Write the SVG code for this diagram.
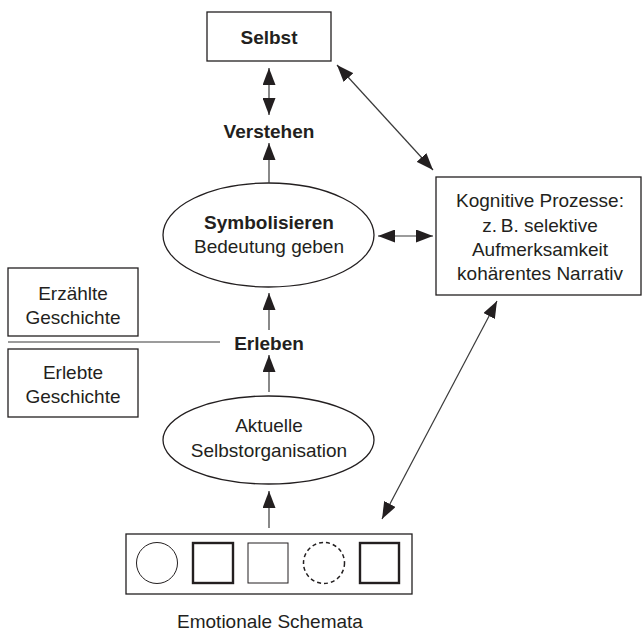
<svg xmlns="http://www.w3.org/2000/svg" width="643" height="632" viewBox="0 0 643 632">
<defs>
<style>
.box{fill:#fff;stroke:#231f20;stroke-width:1.3}
.t{font-family:"Liberation Sans",Arial,sans-serif;font-size:19px;fill:#231f20;text-anchor:middle}
.b{font-weight:bold}
.c{stroke:#3a3a3a;stroke-width:1.2;fill:none}
</style>
<marker id="ah" markerUnits="userSpaceOnUse" markerWidth="18" markerHeight="13" viewBox="0 0 18 13" refX="17" refY="6.5" orient="auto-start-reverse">
<path d="M0,0 L17,6.5 L0,13 z" fill="#231f20"/>
</marker>
</defs>
<rect width="643" height="632" fill="#fff"/>
<g id="selbst">
<rect class="box" x="207" y="12" width="124" height="49"/>
<text class="t b" x="269" y="44">Selbst</text>
</g>
<g id="verstehen">
<text class="t b" x="269" y="138">Verstehen</text>
</g>
<g id="symbolisieren">
<ellipse class="box" cx="268.5" cy="235" rx="105.5" ry="52"/>
<text class="t b" x="269" y="229">Symbolisieren</text>
<text class="t" x="269" y="253">Bedeutung geben</text>
</g>
<g id="kognitive">
<rect class="box" x="436" y="177" width="205" height="118"/>
<text class="t" x="540" y="207">Kognitive Prozesse:</text>
<text class="t" x="540" y="232">z.&#8201;B. selektive</text>
<text class="t" x="540" y="256">Aufmerksamkeit</text>
<text class="t" x="540" y="280">kohärentes Narrativ</text>
</g>
<g id="erzaehlte">
<rect class="box" x="8" y="268" width="130" height="68"/>
<text class="t" x="73" y="300">Erzählte</text>
<text class="t" x="73" y="324">Geschichte</text>
</g>
<g id="erlebte">
<rect class="box" x="8" y="349" width="130" height="68"/>
<text class="t" x="73" y="379">Erlebte</text>
<text class="t" x="73" y="403">Geschichte</text>
</g>
<g id="erleben">
<text class="t b" x="269" y="350">Erleben</text>
</g>
<g id="aktuelle">
<ellipse class="box" cx="268.5" cy="440" rx="105.5" ry="44"/>
<text class="t" x="269" y="432">Aktuelle</text>
<text class="t" x="269" y="457">Selbstorganisation</text>
</g>
<g id="schemata">
<rect class="box" x="126" y="534" width="286" height="60"/>
<circle cx="157" cy="563" r="20.5" fill="none" stroke="#231f20" stroke-width="1"/>
<rect x="193" y="543" width="40" height="40" fill="none" stroke="#231f20" stroke-width="2.4"/>
<rect x="248" y="543" width="40" height="40" fill="none" stroke="#231f20" stroke-width="1"/>
<circle cx="324" cy="563" r="20.5" fill="none" stroke="#231f20" stroke-width="1.5" stroke-dasharray="4 3"/>
<rect x="360" y="543" width="39" height="40" fill="none" stroke="#231f20" stroke-width="2.4"/>
<text class="t" x="270" y="628">Emotionale Schemata</text>
</g>
<g id="connectors">
<line class="c" x1="269" y1="68" x2="269" y2="115" marker-start="url(#ah)" marker-end="url(#ah)"/>
<line class="c" x1="269" y1="183" x2="269" y2="143" marker-end="url(#ah)"/>
<line class="c" x1="337" y1="65" x2="433" y2="170" marker-start="url(#ah)" marker-end="url(#ah)"/>
<line class="c" x1="378" y1="236" x2="433" y2="236" marker-start="url(#ah)" marker-end="url(#ah)"/>
<line class="c" x1="269" y1="330" x2="269" y2="293" marker-end="url(#ah)"/>
<line class="c" x1="269" y1="392" x2="269" y2="355" marker-end="url(#ah)"/>
<line class="c" x1="269" y1="528" x2="269" y2="491" marker-end="url(#ah)"/>
<line class="c" x1="497" y1="301" x2="382" y2="519" marker-start="url(#ah)" marker-end="url(#ah)"/>
<line class="c" x1="8" y1="342" x2="220" y2="342"/>
</g>
</svg>
